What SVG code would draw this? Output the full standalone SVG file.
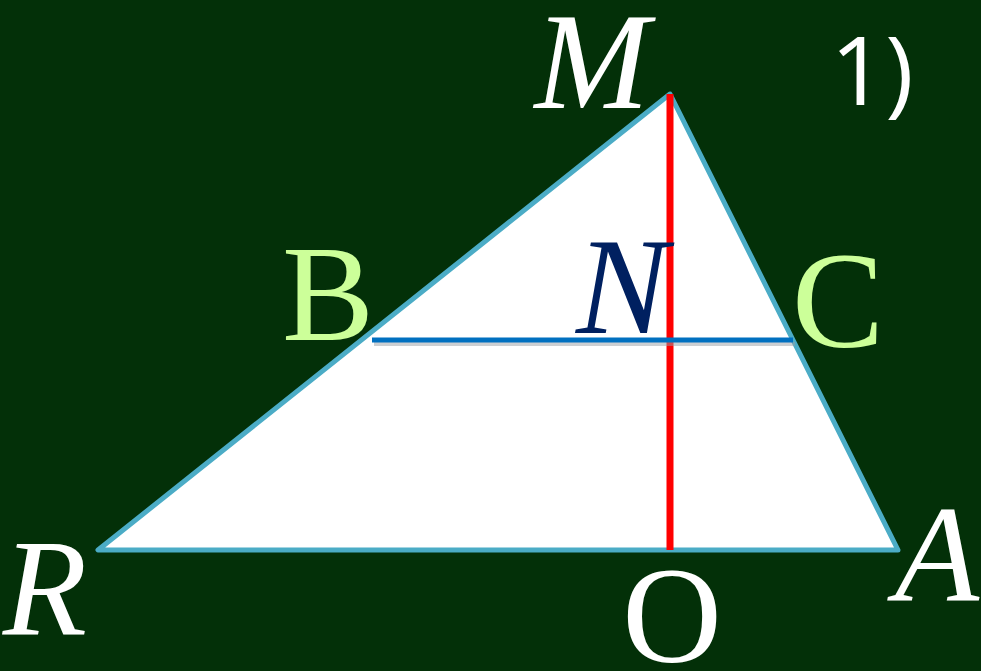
<svg xmlns="http://www.w3.org/2000/svg" width="981" height="671" viewBox="0 0 981 671">
<style>
.lbl{font-family:"Liberation Serif","DejaVu Serif",serif;font-size:138px;text-anchor:middle}
.it{font-style:italic}
.w{fill:#ffffff}
.g{fill:#ccff99}
</style>
<rect width="981" height="671" fill="#033008"/>
<g id="connectors">
<polygon id="triangle" points="670,94 98,550 898,550" fill="#ffffff" stroke="#4bacc6" stroke-width="5" stroke-linejoin="round"/>
<line x1="670" y1="94" x2="670" y2="550" stroke="#ff0000" stroke-width="7"/>
<line x1="374" y1="344" x2="795" y2="344" stroke="#9aa0a6" stroke-width="4" opacity="0.5"/>
<line x1="372" y1="340" x2="793" y2="340" stroke="#0070c0" stroke-width="5"/>
</g>
<g id="M"><text class="lbl it w" x="592" y="108" font-size="130">M</text></g>
<g id="B"><text class="lbl g" x="328" y="340">B</text></g>
<g id="N"><text class="lbl it" x="622" y="333" fill="#002060">N</text></g>
<g id="C"><text class="lbl g" x="838" y="347">C</text></g>
<g id="R"><text class="lbl it w" x="45" y="635">R</text></g>
<g id="A"><text class="lbl it w" x="937" y="600">A</text></g>
<g id="O"><text class="lbl w" x="672" y="662" font-size="130">O</text></g>
<g id="label1"><text x="872" y="105" font-family="'Open Sans','Liberation Sans',sans-serif" font-size="96" fill="#ffffff" text-anchor="middle">1)</text></g>
</svg>
